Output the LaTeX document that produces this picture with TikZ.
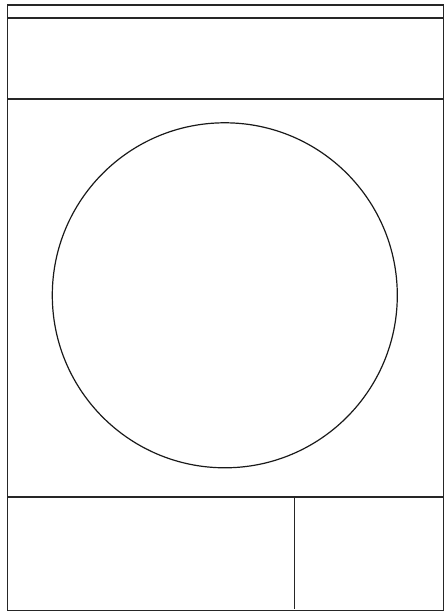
\documentclass[tikz,border=0pt]{standalone}
\begin{document}
\begin{tikzpicture}[x=1pt,y=-1pt,
  edge/.style={draw=black!85,line width=1.5pt},
  drum/.style={draw=black!90,line width=1.2pt}]
\useasboundingbox (0,0) rectangle (446,612);
\coordinate (tl) at (7.5,5);
\coordinate (br) at (443.5,610.5);
\draw[edge] (tl) rectangle (br);
\draw[edge] (7.5,18) -- (443.5,18);
\draw[edge] (7.5,99) -- (443.5,99);
\draw[edge] (7.5,497) -- (443.5,497);
\coordinate (vtop) at (294.5,497);
\coordinate (vbot) at (294.5,609);
\draw[edge] (vtop) -- (vbot);
\node[drum,circle,minimum size=345pt,inner sep=0pt] (door) at (224.8,295.3) {};
\end{tikzpicture}
\end{document}
